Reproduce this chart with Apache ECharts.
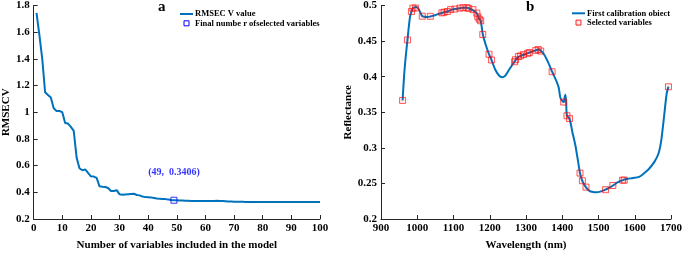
<!DOCTYPE html>
<html>
<head>
<meta charset="utf-8">
<script src="https://cdn.jsdelivr.net/npm/echarts@6/dist/echarts.min.js"></script>
<style>
html,body{margin:0;padding:0;background:#fff;}
#c{width:685px;height:256px;}
</style>
</head>
<body>
<div id="c"></div>
<script>
// ---- Panel a: RMSECV vs number of variables ----
const nVars = [];
for (let i = 1; i <= 100; i++) nVars.push(i);
const rmsecv = [
  1.745, 1.58, 1.40, 1.15, 1.13, 1.11, 1.03, 1.01, 1.01, 1.00,
  0.92, 0.915, 0.89, 0.86, 0.66, 0.58, 0.565, 0.572, 0.545, 0.52,
  0.518, 0.508, 0.445, 0.442, 0.44, 0.432, 0.41, 0.41, 0.416, 0.385,
  0.382, 0.384, 0.386, 0.388, 0.39, 0.38, 0.377, 0.368, 0.364, 0.363,
  0.362, 0.358, 0.354, 0.352, 0.35, 0.349, 0.346, 0.343, 0.3406, 0.340,
  0.339, 0.338, 0.337, 0.336, 0.335, 0.334, 0.334, 0.334, 0.334, 0.334,
  0.334, 0.334, 0.335, 0.336, 0.335, 0.334, 0.333, 0.332, 0.331, 0.330,
  0.330, 0.329, 0.329, 0.328, 0.328, 0.327, 0.327, 0.327, 0.327, 0.328,
  0.328, 0.328, 0.328, 0.328, 0.328, 0.328, 0.328, 0.328, 0.328, 0.328,
  0.328, 0.328, 0.328, 0.328, 0.328, 0.328, 0.328, 0.328, 0.328, 0.328
];
const finalPoint = [49, 0.3406];
const finalLabel = '(49,  0.3406)';
const legendA = ['RMSEC V value', 'Final numbe r ofselected variables'];

// ---- Panel b: spectrum ----
const wavelength = [
  959.6, 965, 973, 980, 984, 988, 993, 998, 1005, 1013,
  1020, 1028, 1036, 1045, 1055, 1068, 1075, 1083, 1092, 1104,
  1117, 1127, 1137, 1145, 1153, 1160, 1165, 1170, 1175, 1181,
  1190, 1198, 1205, 1215, 1225, 1234, 1242, 1250, 1260, 1268,
  1275, 1285, 1295, 1305, 1315, 1327, 1334, 1341, 1350, 1363,
  1372, 1382, 1390, 1395, 1400, 1404, 1407, 1409, 1411, 1413,
  1420, 1428, 1436, 1443, 1449, 1455, 1465, 1475, 1485, 1494,
  1505, 1519, 1530, 1540, 1555, 1567, 1580, 1595, 1612, 1625,
  1639, 1655, 1666, 1673, 1680, 1688, 1693
];
const reflectance = [
  0.3666, 0.41, 0.4516, 0.484, 0.4915, 0.4964, 0.4975, 0.498, 0.494, 0.4855,
  0.4842, 0.4838, 0.4845, 0.4858, 0.4875, 0.4895, 0.4905, 0.4915, 0.4935, 0.495,
  0.4962, 0.4968, 0.4968, 0.4955, 0.4935, 0.491, 0.4885, 0.482, 0.4785, 0.4593,
  0.443, 0.4315, 0.4234, 0.410, 0.402, 0.3993, 0.401, 0.407, 0.415, 0.421,
  0.426, 0.4292, 0.431, 0.433, 0.435, 0.437, 0.4382, 0.4365, 0.431, 0.418,
  0.407, 0.396, 0.385, 0.37, 0.366, 0.3643, 0.372, 0.3747, 0.36, 0.3451,
  0.341, 0.322, 0.304, 0.283, 0.2645, 0.2538, 0.2448, 0.2395, 0.2378, 0.2375,
  0.2385, 0.2412, 0.244, 0.2471, 0.252, 0.2546, 0.2565, 0.2575, 0.2592, 0.264,
  0.2703, 0.281, 0.2927, 0.31, 0.34, 0.376, 0.386
];
const selWavelength = [
  959.6, 973, 984, 988, 995, 1013.8, 1036, 1068, 1074, 1083,
  1092, 1104, 1117.6, 1126.6, 1137, 1142, 1153.7, 1164.5, 1167, 1171,
  1175, 1180.8, 1198, 1205, 1268.5, 1271, 1279, 1285, 1293, 1304.6,
  1309, 1327, 1333.6, 1340.6, 1372, 1404, 1413, 1420, 1449, 1455.5,
  1465.5, 1519.5, 1539.5, 1566.6, 1571, 1693
];
const selReflectance = [
  0.3666, 0.4516, 0.4915, 0.4964, 0.4964, 0.485, 0.4848, 0.4897, 0.4906, 0.4915,
  0.4942, 0.495, 0.4964, 0.4969, 0.4969, 0.496, 0.4942, 0.4893, 0.484, 0.4808,
  0.4785, 0.4593, 0.4315, 0.4234, 0.421, 0.4238, 0.4284, 0.4292, 0.431, 0.4328,
  0.4338, 0.4369, 0.4382, 0.436, 0.4069, 0.3643, 0.3451, 0.3411, 0.2645, 0.2538,
  0.2448, 0.2412, 0.2471, 0.2546, 0.2546, 0.3858
];
const legendB = ['First calibration obiect', 'Selected variables'];

const FONT = '"Liberation Serif", "Times New Roman", serif';
const LINE_BLUE = '#0072BD';
const zip = (a, b) => a.map((v, i) => [v, b[i]]);

function axisCommon() {
  return {
    axisLine: { show: true, lineStyle: { color: '#262626', width: 1 } },
    axisTick: { show: true, inside: true, length: 4, lineStyle: { color: '#262626' } },
    axisLabel: { color: '#000', fontFamily: FONT, fontWeight: 'bold', fontSize: 11, margin: 4,
                 formatter: v => String(+v.toFixed(4)) },
    splitLine: { show: false },
    nameLocation: 'middle',
    nameTextStyle: { color: '#000', fontFamily: FONT, fontWeight: 'bold', fontSize: 11 }
  };
}

function legendGraphics(x, y, names, lineColor, boxColor, boxFill) {
  const ts = { fontFamily: FONT, fontWeight: 'bold', fontSize: 8.5, fill: '#000',
               verticalAlign: 'middle', align: 'left' };
  return [
    { type: 'line', shape: { x1: x, y1: y, x2: x + 13, y2: y }, style: { stroke: lineColor, lineWidth: 2 } },
    { type: 'text', x: x + 15, y: y, style: Object.assign({ text: names[0] }, ts) },
    { type: 'rect', shape: { x: x + 4, y: y + 9.3 - 2.5, width: 5, height: 5 },
      style: { stroke: boxColor, fill: boxFill, lineWidth: 1 } },
    { type: 'text', x: x + 15, y: y + 9.3, style: Object.assign({ text: names[1] }, ts) }
  ];
}

const chart = echarts.init(document.getElementById('c'), null, { renderer: 'canvas' });
chart.setOption({
  animation: false,
  backgroundColor: '#fff',
  title: [
    { text: 'a', left: 153, top: -5, textStyle: { fontFamily: FONT, fontWeight: 'bold', fontSize: 15, color: '#000' } },
    { text: 'b', left: 521, top: -5, textStyle: { fontFamily: FONT, fontWeight: 'bold', fontSize: 15, color: '#000' } }
  ],
  graphic: [].concat(
    legendGraphics(180, 14, legendA, LINE_BLUE, '#0000FF', 'rgba(0,0,0,0)'),
    legendGraphics(572, 13.3, legendB, LINE_BLUE, 'rgba(255,0,0,0.85)', 'rgba(255,0,0,0.08)')
  ),
  grid: [
    { left: 28, right: 365, top: 5, bottom: 29, containLabel: false },
    { left: 381, right: 9, top: 4, bottom: 29, containLabel: false }
  ],
  xAxis: [
    Object.assign(axisCommon(), {
      gridIndex: 0, type: 'value', min: 0, max: 100, interval: 10,
      name: 'Number of variables included in the model', nameGap: 21
    }),
    Object.assign(axisCommon(), {
      gridIndex: 1, type: 'value', min: 900, max: 1700, interval: 100,
      name: 'Wavelength (nm)', nameGap: 21
    })
  ],
  yAxis: [
    Object.assign(axisCommon(), {
      gridIndex: 0, type: 'value', min: 0.2, max: 1.8, interval: 0.2,
      name: 'RMSECV', nameGap: 20
    }),
    Object.assign(axisCommon(), {
      gridIndex: 1, type: 'value', min: 0.2, max: 0.5, interval: 0.05,
      name: 'Reflectance', nameGap: 27
    })
  ],
  series: [
    {
      name: legendA[0], type: 'line', xAxisIndex: 0, yAxisIndex: 0,
      data: zip(nVars, rmsecv), symbol: 'none',
      lineStyle: { color: LINE_BLUE, width: 2 }, itemStyle: { color: LINE_BLUE }
    },
    {
      name: legendA[1], type: 'scatter', xAxisIndex: 0, yAxisIndex: 0,
      data: [finalPoint], symbol: 'rect', symbolSize: 6,
      itemStyle: { color: 'rgba(0,0,0,0)', borderColor: '#0000FF', borderWidth: 1 },
      label: {
        show: true, position: 'top', distance: 19, formatter: finalLabel,
        color: '#0000FF', fontFamily: FONT, fontWeight: 'bold', fontSize: 10
      },
      z: 5
    },
    {
      name: legendB[0], type: 'line', xAxisIndex: 1, yAxisIndex: 1,
      data: zip(wavelength, reflectance), symbol: 'none', smooth: 0.3,
      lineStyle: { color: LINE_BLUE, width: 2 }, itemStyle: { color: LINE_BLUE }
    },
    {
      name: legendB[1], type: 'scatter', xAxisIndex: 1, yAxisIndex: 1,
      data: zip(selWavelength, selReflectance), symbol: 'rect', symbolSize: 6,
      itemStyle: { color: 'rgba(255,0,0,0.08)', borderColor: 'rgba(255,0,0,0.8)', borderWidth: 1 },
      z: 5
    }
  ]
});
</script>
</body>
</html>
